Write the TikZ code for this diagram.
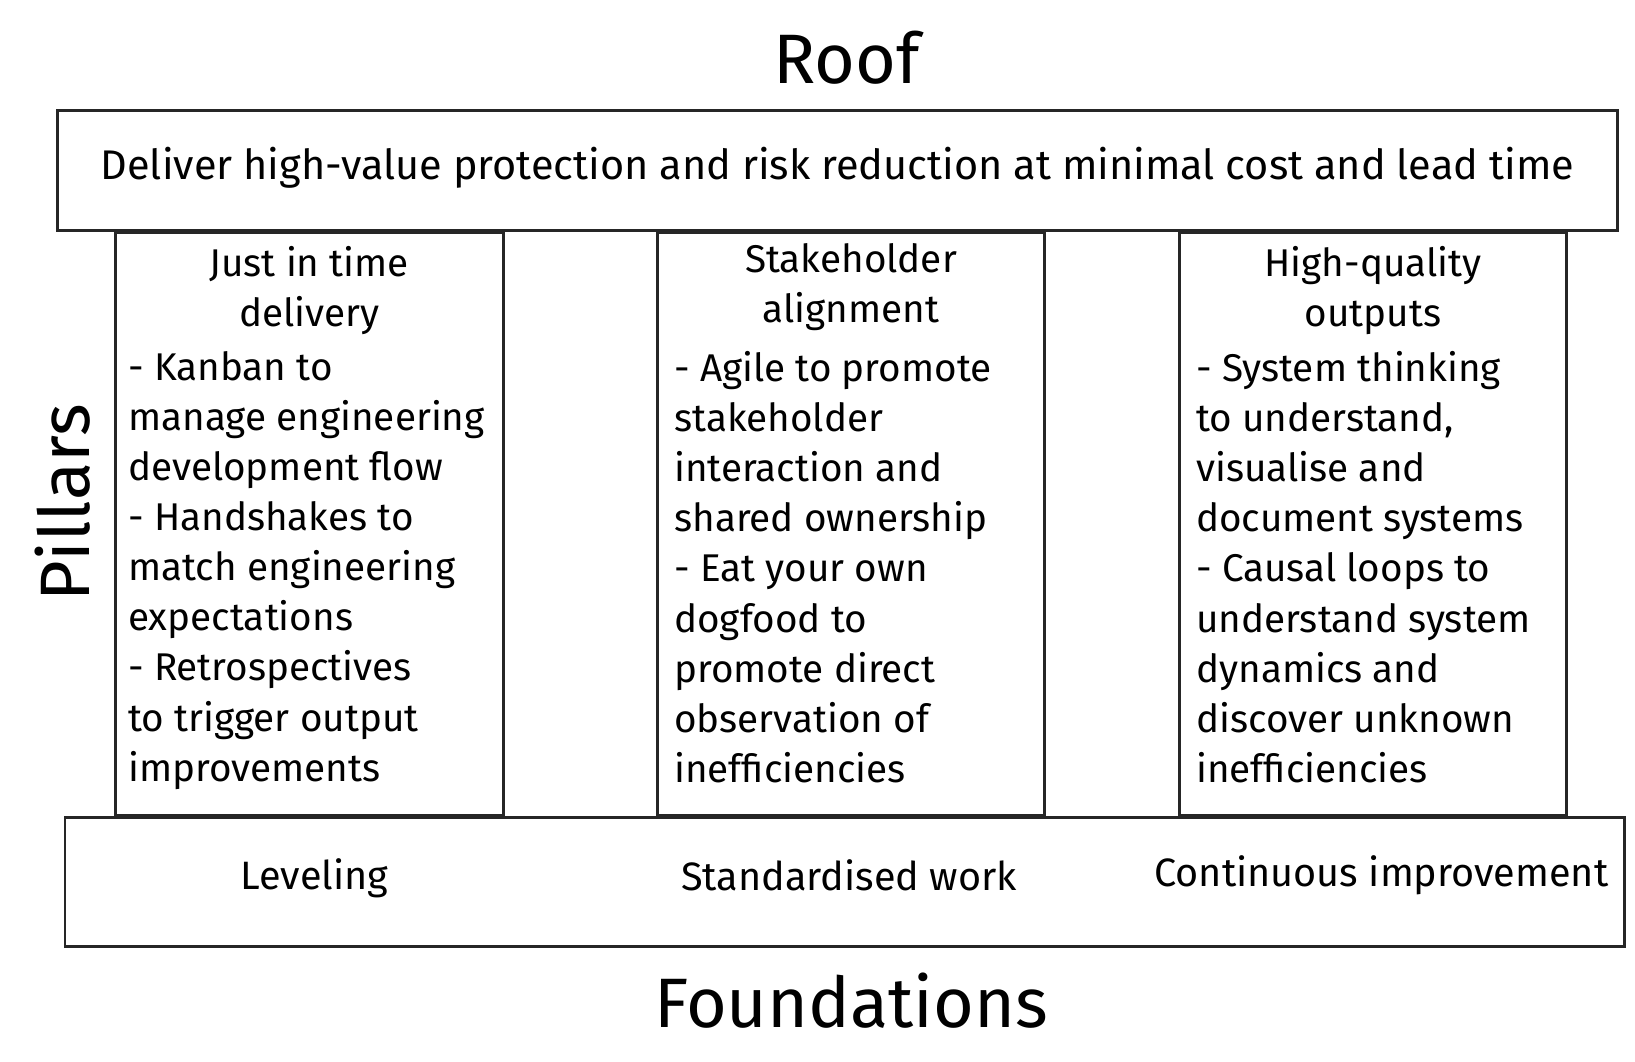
\documentclass[tikz,border=0pt]{standalone}
\usepackage{fontspec}
\setmainfont{Fira Sans}
\begin{document}
\begin{tikzpicture}[x=0.02cm,y=-0.02cm,
  boxx/.style={draw=black!85,line width=1.6pt},
  body/.style={font=\fontsize{21}{27.2}\selectfont,align=left,anchor=north west,inner sep=0pt},
  head/.style={font=\fontsize{21}{27.2}\selectfont,align=center,anchor=north,inner sep=0pt},
  foot/.style={font=\fontsize{21.5}{24}\selectfont,inner sep=0pt},
  big/.style={font=\fontsize{38}{44}\selectfont,inner sep=0pt}]
\useasboundingbox (0,0) rectangle (1560,1013);
\node[big] (rooft) at (808,55) {Roof};
\draw[boxx] (55,105) rectangle (1543,220);
\node[font=\fontsize{22.5}{24}\selectfont,inner sep=0pt] (roof) at (799,160) {Deliver high-value protection and risk reduction at minimal cost and lead time};
\draw[boxx] (110,222) rectangle (480,778);
\draw[boxx] (627,222) rectangle (997,778);
\draw[boxx] (1125,222) rectangle (1495,778);
\draw[boxx] (62,780) rectangle (1550,903);
\node[big,rotate=90] (pil) at (60,480) {Pillars};
\node[big] (found) at (812,955) {Foundations};
\node[head] (h1) at (295,235) {Just in time\\delivery};
\node[head] (h2) at (812,232) {Stakeholder\\alignment};
\node[head] (h3) at (1310,235) {High-quality\\outputs};
\node[body] (b1) at (122,335) {- Kanban to\\manage engineering\\development flow\\- Handshakes to\\match engineering\\expectations\\- Retrospectives\\to trigger output\\improvements};
\node[body] (b2) at (643,335) {- Agile to promote\\stakeholder\\interaction and\\shared ownership\\- Eat your own\\dogfood to\\promote direct\\observation of\\inefficiencies};
\node[body] (b3) at (1141,335) {- System thinking\\to understand,\\visualise and\\document systems\\- Causal loops to\\understand system\\dynamics and\\discover unknown\\inefficiencies};
\node[foot] (f1) at (300,838) {Leveling};
\node[foot] (f2) at (810,835) {Standardised work};
\node[foot] (f3) at (1318,835) {Continuous improvement};
\end{tikzpicture}
\end{document}
